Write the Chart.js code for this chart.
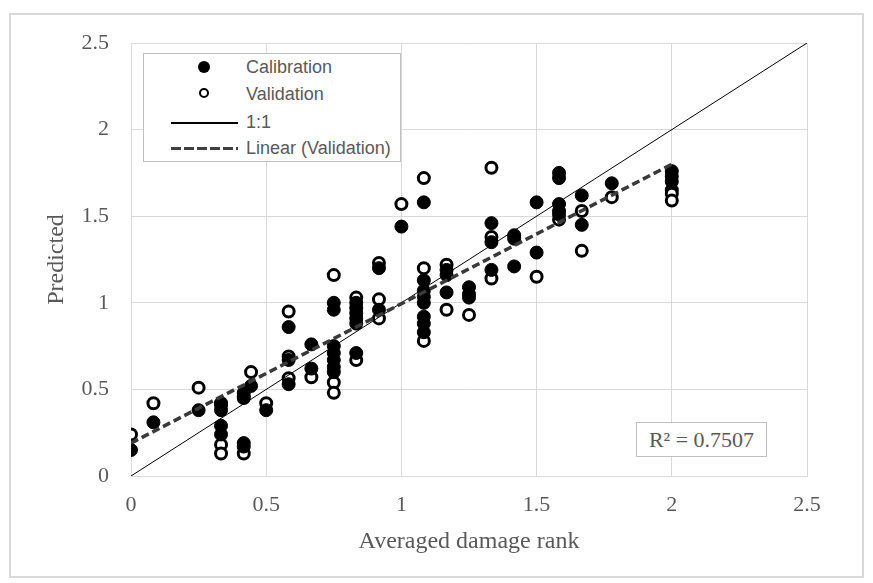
<!DOCTYPE html>
<html lang="en">
<head>
<meta charset="UTF-8"/>
<title>Predicted vs averaged damage rank</title>
<script src="https://cdn.jsdelivr.net/npm/chart.js@4.4.2/dist/chart.umd.min.js"></script>
<style>
body{margin:0;background:#fff}
#wrap{position:relative;width:873px;height:583px}
#frame{position:absolute;left:9px;top:13px;width:851px;height:561px;border:2px solid #d9d9d9;pointer-events:none}
.legend{position:absolute;left:143px;top:53px;width:256px;height:107px;border:1px solid #bfbfbf;background:#fff;
  font-family:"Liberation Sans",Arial,sans-serif;font-size:18px;color:#595959}
.legend .txt{position:absolute;left:102px;line-height:20px}
.legend .dot{position:absolute;left:54px;width:12px;height:12px;border-radius:50%;background:#000}
.legend .ring{position:absolute;left:55px;width:6px;height:6px;border-radius:50%;border:2.5px solid #000}
.legend .solid{position:absolute;left:27px;width:67px;height:1.5px;background:#000}
.legend .dash{position:absolute;left:27px;width:67px;height:3px;
  background:repeating-linear-gradient(90deg,#404040 0 10px,transparent 10px 13px)}
.r2{position:absolute;left:636px;top:422px;width:129px;height:33px;border:1px solid #bfbfbf;background:#fff;
  font-family:"Liberation Serif","Times New Roman",serif;font-size:22px;color:#595959;text-align:center;line-height:33px}
</style>
</head>
<body>
<div id="wrap">
  <canvas id="chart" width="873" height="583"></canvas>
  <div id="frame"></div>
  <div class="legend">
    <span class="dot" style="top:7px"></span><span class="txt" style="top:3px">Calibration</span>
    <span class="ring" style="top:34px"></span><span class="txt" style="top:30px">Validation</span>
    <span class="solid" style="top:68px"></span><span class="txt" style="top:58px">1:1</span>
    <span class="dash" style="top:93px"></span><span class="txt" style="top:84px">Linear (Validation)</span>
  </div>
  <div class="r2">R² = 0.7507</div>
</div>
<script>
// calibration set: averaged damage rank vs predicted
const calibRank = [0,0.083,0.25,0.333,0.333,0.333,0.333,0.417,0.417,0.417,0.417,0.444,0.5,
  0.583,0.583,0.583,0.667,0.667,0.75,0.75,0.75,0.75,0.75,0.75,0.75,
  0.833,0.833,0.833,0.833,0.833,0.833,0.917,0.917,1.0,
  1.083,1.083,1.083,1.083,1.083,1.083,1.083,1.083,1.167,1.167,1.167,1.25,1.25,1.25,
  1.333,1.333,1.333,1.417,1.417,1.417,1.5,1.5,1.583,1.583,1.583,1.583,1.583,
  1.667,1.667,1.778,2,2,2];
const calibPred = [0.15,0.31,0.38,0.41,0.38,0.29,0.24,0.19,0.17,0.46,0.48,0.52,0.38,
  0.86,0.67,0.53,0.76,0.62,1.00,0.96,0.75,0.71,0.67,0.63,0.60,
  1.00,0.97,0.94,0.91,0.88,0.71,1.20,0.96,1.44,
  1.58,1.13,1.07,1.035,1.00,0.92,0.88,0.83,1.19,1.16,1.06,1.09,1.05,1.03,
  1.46,1.35,1.19,1.39,1.37,1.21,1.58,1.29,1.75,1.72,1.57,1.53,1.51,
  1.62,1.45,1.69,1.76,1.73,1.70];

// validation set
const validRank = [0,0.083,0.25,0.333,0.333,0.333,0.417,0.417,0.444,0.5,
  0.583,0.583,0.583,0.667,0.75,0.75,0.75,0.833,0.833,0.917,0.917,0.917,1.0,
  1.083,1.083,1.083,1.167,1.167,1.25,1.333,1.333,1.333,1.5,1.583,1.667,1.667,1.778,2,2,2];
const validPred = [0.24,0.42,0.51,0.42,0.18,0.13,0.45,0.13,0.60,0.42,
  0.95,0.69,0.565,0.57,1.16,0.54,0.48,1.03,0.67,1.23,1.02,0.91,1.57,
  1.72,1.20,0.78,1.22,0.96,0.93,1.78,1.38,1.14,1.15,1.48,1.53,1.30,1.61,1.65,1.63,1.59];

// reference line and the validation trend line end points
const oneToOneX = [0,2.5], oneToOneY = [0,2.5];
const trendX = [0,2], trendY = [0.19,1.80];

const xTicks = [0,0.5,1,1.5,2,2.5];
const yTicks = [0,0.5,1,1.5,2,2.5];

const pts = (xs,ys)=>xs.map((x,i)=>({x,y:ys[i]}));
const grey = "#595959";
const serif = "'Liberation Serif','Times New Roman',serif";

new Chart(document.getElementById("chart"),{
  type:"scatter",
  data:{datasets:[
    {label:"Linear (Validation)",data:pts(trendX,trendY),showLine:true,pointRadius:0,
      borderColor:"#3a3a3a",borderWidth:3.5,borderDash:[8,4]},
    {label:"1:1",data:pts(oneToOneX,oneToOneY),showLine:true,pointRadius:0,
      borderColor:"#000",borderWidth:1},
    {label:"Calibration",data:pts(calibRank,calibPred),pointRadius:6.5,
      backgroundColor:"#000",borderColor:"#000",borderWidth:1},
    {label:"Validation",data:pts(validRank,validPred),pointRadius:5.5,
      backgroundColor:"#fff",borderColor:"#000",borderWidth:3}
  ]},
  options:{
    responsive:false,animation:false,
    layout:{padding:{left:0,right:66,top:43,bottom:0}},
    plugins:{legend:{display:false},tooltip:{enabled:false}},
    scales:{
      x:{type:"linear",min:0,max:2.5,
        afterBuildTicks:s=>{s.ticks=xTicks.map(v=>({value:v}))},
        afterFit:s=>{s.height=107},
        grid:{color:"#d9d9d9",drawTicks:false},border:{color:"#d9d9d9"},
        ticks:{padding:16,color:grey,font:{family:serif,size:22},callback:v=>String(v)},
        title:{display:true,text:"Averaged damage rank",color:grey,
          font:{family:serif,size:24},padding:{top:0,bottom:27}}},
      y:{type:"linear",min:0,max:2.5,
        afterBuildTicks:s=>{s.ticks=yTicks.map(v=>({value:v}))},
        afterFit:s=>{s.width=131},
        grid:{color:"#d9d9d9",drawTicks:false},border:{color:"#d9d9d9"},
        ticks:{padding:22,color:grey,font:{family:serif,size:22},callback:v=>String(v)},
        title:{display:true,text:"Predicted",color:grey,
          font:{family:serif,size:24},padding:{top:42,bottom:0}}}
    }
  }
});
</script>
</body>
</html>
